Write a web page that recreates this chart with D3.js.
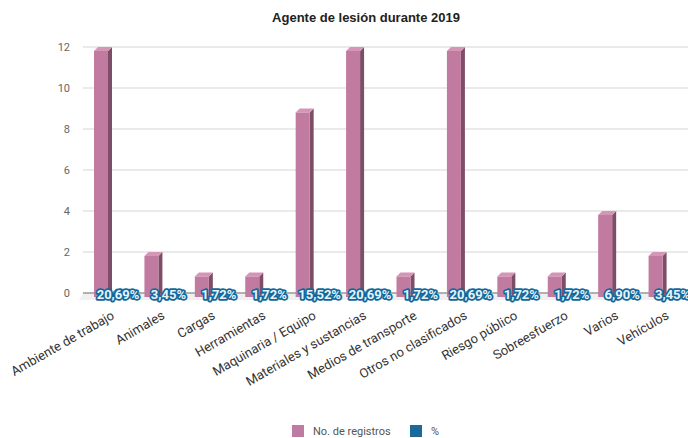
<!DOCTYPE html>
<html>
<head>
<meta charset="utf-8">
<script src="https://cdn.jsdelivr.net/npm/d3@7"></script>
<style>
  body { margin: 0; background: #fff; }
  svg { font-family: "Liberation Sans", Arial, sans-serif; }
</style>
</head>
<body>
<div class="grafico"></div>
<script>
// datos del grafico
var categorias = ["Ambiente de trabajo", "Animales", "Cargas", "Herramientas",
  "Maquinaria / Equipo", "Materiales y sustancias", "Medios de transporte",
  "Otros no clasificados", "Riesgo público", "Sobreesfuerzo", "Varios", "Vehículos"];
var registros = [12, 2, 1, 1, 9, 12, 1, 12, 1, 1, 4, 2];
var porcentaje = [20.69, 3.45, 1.72, 1.72, 15.52, 20.69, 1.72, 20.69, 1.72, 1.72, 6.90, 3.45];
var ticksY = [0, 2, 4, 6, 8, 10, 12];
var series = ["No. de registros", "%"];

var width = 688, height = 438;
var esquerda = 83, direita = 688, topo = 47, base = 293;
var dx = 4, dy = 4; // profundidade 3D

var svg = d3.select(".grafico").append("svg")
  .attr("width", width)
  .attr("height", height);

// titulo
svg.append("text")
  .attr("x", 366).attr("y", 22)
  .attr("text-anchor", "middle")
  .style("font-size", "13px").style("font-weight", "bold").style("fill", "#222")
  .text("Agente de lesión durante 2019");

var x = d3.scaleBand().domain(categorias).range([esquerda, direita]);
var y = d3.scaleLinear().domain([0, 12]).range([base, topo]);

// linhas de grade
svg.append("g").selectAll("line")
  .data(ticksY.filter(function(t){ return t > 0; }))
  .enter().append("line")
  .attr("x1", esquerda).attr("x2", direita)
  .attr("y1", function(d){ return y(d); })
  .attr("y2", function(d){ return y(d); })
  .attr("stroke", "#e3e3e3").attr("stroke-width", 1.5);

// eixo y
var eixoY = svg.append("g")
  .attr("transform", "translate(" + esquerda + ",0)")
  .call(d3.axisLeft(y).tickValues(ticksY).tickSize(0).tickPadding(13));
eixoY.select(".domain").remove();
eixoY.selectAll("text").style("font-size", "11px").style("fill", "#666")
  .style("font-family", "Roboto, 'Liberation Sans', sans-serif");

// piso
svg.append("polygon")
  .attr("points", [[esquerda, base], [direita, base], [direita, base + 7], [esquerda - dx, base + 7]].join(" "))
  .attr("fill", "#f0f0f0");
svg.append("line")
  .attr("x1", esquerda).attr("x2", direita)
  .attr("y1", base).attr("y2", base)
  .attr("stroke", "#999").attr("stroke-width", 1.5);

// barras 3D
var larg = 14;
function barra3d(g, x0, v, cor, lado, tampa) {
  var yt = y(v) + dy, yb = y(0) + dy;
  var x1 = x0 + larg;
  g.append("polygon")
    .attr("points", [[x1, yt], [x1 + dx, yt - dy], [x1 + dx, yb - dy], [x1, yb]].join(" "))
    .attr("fill", lado);
  g.append("polygon")
    .attr("points", [[x0, yt], [x0 + dx, yt - dy], [x1 + dx, yt - dy], [x1, yt]].join(" "))
    .attr("fill", tampa);
  g.append("rect")
    .attr("x", x0).attr("y", yt)
    .attr("width", larg).attr("height", yb - yt)
    .attr("fill", cor);
}

var barras = svg.append("g");
categorias.forEach(function(c, i){
  barra3d(barras, x(c) + 11, registros[i], "#c27ba0", "#7e4d67", "#d596b6");
  barra3d(barras, x(c) + 29, porcentaje[i] / 100, "#1a6b9a", "#0f4b6e", "#3f8bb8");
});

// rotulos de porcentagem
svg.append("g").selectAll("text")
  .data(porcentaje)
  .enter().append("text")
  .attr("x", function(d, i){ return x(categorias[i]) + 35; })
  .attr("y", base + 6)
  .attr("text-anchor", "middle")
  .style("font-size", "13px").style("font-weight", "bold")
  .style("font-family", "Roboto, 'Liberation Sans', sans-serif")
  .style("fill", "#e6f3fb")
  .style("stroke", "#12689a").style("stroke-width", "3.5px")
  .style("stroke-linejoin", "round").style("paint-order", "stroke")
  .text(function(d){ return d.toFixed(2).replace(".", ",") + "%"; });

// rotulos do eixo x
svg.append("g").selectAll("text")
  .data(categorias)
  .enter().append("text")
  .attr("transform", function(d){
    return "translate(" + (x(d) + x.bandwidth() / 2 + 7) + "," + (base + 25) + ") rotate(-30)";
  })
  .attr("text-anchor", "end")
  .style("font-size", "13px").style("fill", "#333")
  .style("font-family", "Roboto, 'Liberation Sans', sans-serif")
  .text(function(d){ return d; });

// legenda
var cores = ["#c27ba0", "#1a6b9a"];
var posLeg = [292, 410];
var leg = svg.append("g");
series.forEach(function(s, i){
  leg.append("rect")
    .attr("x", posLeg[i]).attr("y", 425)
    .attr("width", 12).attr("height", 12)
    .attr("fill", cores[i]);
  leg.append("text")
    .attr("x", posLeg[i] + 21).attr("y", 435)
    .style("font-size", "11px").style("fill", "#555")
    .style("font-family", "Roboto, 'Liberation Sans', sans-serif")
    .text(s);
});
</script>
</body>
</html>
